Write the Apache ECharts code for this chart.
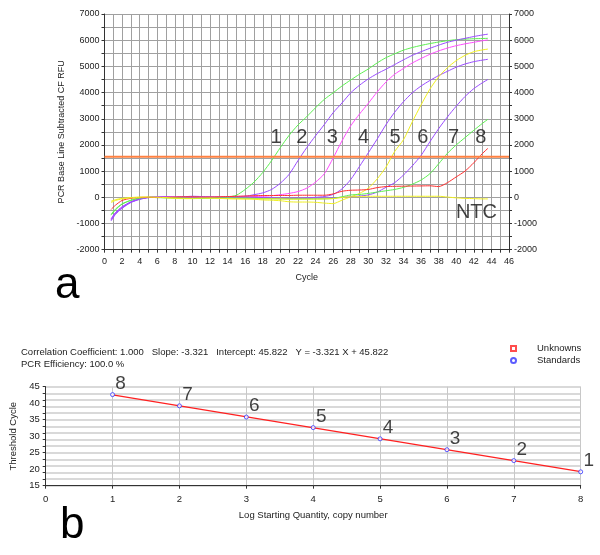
<!DOCTYPE html>
<html>
<head>
<meta charset="utf-8">
<script src="https://cdn.jsdelivr.net/npm/echarts@6/dist/echarts.min.js"></script>
<style>
html,body{margin:0;padding:0;background:#fff;}
#c{width:600px;height:555px;}
</style>
</head>
<body>
<div id="c"></div>
<script>
// ---------- Panel a: amplification curves ----------
const CYCLES = [0.75,1.25,2,3,4,5,6,7,8,9,10,11,12,13,14,15,16,17,18,19,20,21,22,23,24,25,26,27,28,29,30,31,32,33,34,35,36,37,38,39,40,41,42,43,43.6];
const S1 = [-680,-480,-260,-120,-40,0,10,0,-10,-20,-30,-20,-10,0,10,80,300,580,950,1400,1900,2370,2760,3080,3420,3740,3990,4250,4480,4700,4900,5130,5330,5480,5620,5720,5800,5870,5930,5980,6020,6040,6055,6065,6070];
const S2 = [-900,-650,-420,-200,-80,-10,10,20,10,20,40,30,20,10,20,30,40,100,170,300,540,880,1400,1900,2350,2780,3230,3600,3990,4280,4520,4720,4890,5070,5250,5420,5560,5690,5810,5920,6000,6070,6140,6200,6230];
const S3 = [-850,-600,-380,-180,-60,0,10,20,10,0,-10,0,0,10,10,20,20,30,40,60,100,150,220,350,580,900,1500,2150,2730,3180,3590,4020,4400,4700,4920,5130,5300,5460,5590,5700,5790,5860,5920,5980,6010];
const S4 = [-870,-620,-400,-190,-70,-10,0,10,0,10,20,10,0,-10,0,10,10,0,-10,-20,-30,-30,-30,-20,0,30,110,320,680,1180,1700,2220,2770,3250,3650,3990,4250,4460,4650,4810,4970,5090,5180,5240,5270];
const S5 = [-150,-90,-40,-10,10,0,0,-20,-40,-50,-50,-40,-30,-40,-50,-60,-60,-70,-100,-110,-130,-170,-180,-180,-190,-220,-240,-110,20,150,350,700,1150,1750,2200,2880,3530,4130,4600,4950,5220,5420,5560,5630,5660];
const S6 = [-820,-580,-360,-170,-60,0,10,0,0,10,0,-10,0,0,-10,-20,-20,-30,-30,-30,-40,-40,-40,-40,-30,-30,-20,0,20,50,90,200,380,560,850,1200,1600,2120,2620,3070,3480,3850,4150,4380,4500];
const S7 = [-650,-450,-250,-110,-30,0,-10,-20,-20,-30,-40,-40,-30,-20,-20,-30,-30,-40,-50,-50,-60,-60,-60,-60,-60,-60,-40,20,90,110,150,200,250,300,380,500,660,900,1280,1680,2000,2280,2560,2830,2980];
const S8 = [-460,-300,-120,-40,-5,0,-10,0,10,20,20,10,10,20,30,40,50,60,70,70,70,70,80,80,80,80,130,230,270,280,300,370,410,420,425,430,435,440,410,560,780,1000,1320,1680,1870];
const NTC = [-200,-120,-60,-20,0,10,0,-10,-30,-40,-40,-30,-30,-40,-50,-50,-60,-60,-60,-60,-60,-70,-70,-70,-70,-60,-50,-10,20,30,40,40,40,40,40,40,40,40,40,10,-20,-40,-50,-60,-60];
const CURVES = [S1,S2,S3,S4,S5,S6,S7,S8,NTC];
const CURVE_NAMES = ['1','2','3','4','5','6','7','8','NTC'];
const CURVE_COLORS = ['#5cf050','#9a4cff','#ff4cff','#9a4cff','#f0f020','#9a4cff','#5cf050','#ff3030','#f0f020'];
const THRESHOLD = 1550;
const CYCLE_RANGE = [0, 46];
const RFU_RANGE = [-2000, 7000];
const CURVE_LABEL_X = [19.5, 22.45, 25.9, 29.45, 33.05, 36.2, 39.7, 42.8, 42.3];
const CURVE_LABEL_Y = [2270, 2270, 2270, 2270, 2270, 2270, 2270, 2270, -560];

// ---------- Panel b: standard curve ----------
const LOG_QTY = [1,2,3,4,5,6,7,8];
const CT = [42.6,39.2,35.8,32.6,29.2,25.9,22.6,19.2];
const STD_LABELS = ['8','7','6','5','4','3','2','1'];
const CORR = '1.000';
const SLOPE = -3.321;
const INTERCEPT = 45.822;
const EFFICIENCY = '100.0 %';

const FONT = 'Liberation Sans';
const chart = echarts.init(document.getElementById('c'), null, {renderer:'canvas'});

const curveSeries = CURVES.map((arr, i) => ({
  type:'line', name:CURVE_NAMES[i], xAxisIndex:0, yAxisIndex:0,
  data: arr.map((v, j) => [CYCLES[j], v]),
  showSymbol:false, smooth:0.25, silent:true,
  lineStyle:{color:CURVE_COLORS[i], width:1}, itemStyle:{color:CURVE_COLORS[i]},
  z:3
}));

const fitLine = [LOG_QTY[0], LOG_QTY[LOG_QTY.length-1]].map(x => [x, +(INTERCEPT + SLOPE*x).toFixed(3)]);
const plain = v => String(v);

const option = {
  animation:false,
  backgroundColor:'#fff',
  textStyle:{fontFamily:FONT},
  title:[{
    text:'Correlation Coefficient: ' + CORR + '   Slope: ' + SLOPE + '   Intercept: ' + INTERCEPT + '   Y = ' + SLOPE + ' X + ' + INTERCEPT + '\nPCR Efficiency: ' + EFFICIENCY,
    left:16, top:341,
    textStyle:{fontFamily:FONT, fontSize:9.5, fontWeight:'normal', color:'#222', lineHeight:12.5}
  }],
  legend:{
    orient:'vertical', left:505, top:338, itemWidth:5, itemHeight:5, itemGap:1,
    data:['Unknowns','Standards'],
    textStyle:{fontFamily:FONT, fontSize:9.5, color:'#222', padding:[0,0,0,16], lineHeight:11}
  },
  graphic:[
    {type:'text', left:55, top:264, style:{text:'a', font:'44px "Liberation Sans"', fill:'#000'}},
    {type:'text', left:60, top:504, style:{text:'b', font:'44px "Liberation Sans"', fill:'#000'}}
  ],
  grid:[
    {left:104.5, top:14, width:404.5, height:235.7},
    {left:45.7, top:386.7, width:535, height:99}
  ],
  xAxis:[
    {gridIndex:0, type:'value', min:CYCLE_RANGE[0], max:CYCLE_RANGE[1], interval:2,
     name:'Cycle', nameLocation:'middle', nameGap:23, nameTextStyle:{fontSize:9, color:'#222', fontFamily:FONT},
     axisLine:{onZero:false, lineStyle:{color:'#333', width:1}},
     axisTick:{show:true, length:3, lineStyle:{color:'#333'}},
     minorTick:{show:true, splitNumber:2, length:3, lineStyle:{color:'#333'}},
     axisLabel:{fontSize:9, color:'#222', margin:7, fontFamily:FONT},
     splitLine:{show:true, lineStyle:{color:'#a0a0a0', width:1}},
     minorSplitLine:{show:true, lineStyle:{color:'#a0a0a0', width:1}}},
    {gridIndex:1, type:'value', min:0, max:8, interval:1,
     name:'Log Starting Quantity, copy number', nameLocation:'middle', nameGap:25, nameTextStyle:{fontSize:9.5, color:'#222', fontFamily:FONT},
     axisLine:{onZero:false, lineStyle:{color:'#333', width:1}},
     axisTick:{show:true, length:3, lineStyle:{color:'#333'}},
     axisLabel:{fontSize:9.5, color:'#222', margin:9, fontFamily:FONT},
     splitLine:{show:true, lineStyle:{color:'#c8c8c8', width:1}}}
  ],
  yAxis:[
    {gridIndex:0, type:'value', min:RFU_RANGE[0], max:RFU_RANGE[1], interval:1000, position:'left',
     name:'PCR Base Line Subtracted CF RFU', nameLocation:'middle', nameGap:34, nameRotate:90,
     nameTextStyle:{fontSize:9, color:'#222', fontFamily:FONT},
     axisLine:{show:true, lineStyle:{color:'#333', width:1}},
     axisTick:{show:true, length:3, lineStyle:{color:'#333'}},
     minorTick:{show:true, splitNumber:2, length:3, lineStyle:{color:'#333'}},
     axisLabel:{fontSize:9, color:'#222', margin:5, fontFamily:FONT, formatter:plain},
     splitLine:{show:true, lineStyle:{color:'#a0a0a0', width:1}},
     minorSplitLine:{show:true, lineStyle:{color:'#a0a0a0', width:1}}},
    {gridIndex:0, type:'value', min:RFU_RANGE[0], max:RFU_RANGE[1], interval:1000, position:'right',
     axisLine:{show:true, lineStyle:{color:'#333', width:1}},
     axisTick:{show:true, length:3, lineStyle:{color:'#333'}},
     minorTick:{show:true, splitNumber:2, length:3, lineStyle:{color:'#333'}},
     axisLabel:{fontSize:9, color:'#222', margin:5, fontFamily:FONT, formatter:plain},
     splitLine:{show:false}},
    {gridIndex:1, type:'value', min:15, max:45, interval:5, position:'left',
     name:'Threshold Cycle', nameLocation:'middle', nameGap:22, nameRotate:90,
     nameTextStyle:{fontSize:9.5, color:'#222', fontFamily:FONT},
     axisLine:{show:true, lineStyle:{color:'#333', width:1}},
     axisTick:{show:false},
     axisLabel:{fontSize:9.5, color:'#222', margin:6, fontFamily:FONT},
     splitLine:{show:false}},
    {gridIndex:1, type:'value', min:15, max:45, interval:2, position:'left',
     axisLine:{show:false}, axisLabel:{show:false},
     axisTick:{show:true, length:3, lineStyle:{color:'#333'}},
     splitLine:{show:true, lineStyle:{color:'#cdcdcd', width:1.6}}}
  ],
  series:[
    ...curveSeries,
    {type:'line', name:'threshold', xAxisIndex:0, yAxisIndex:0, silent:true,
     data:[[CYCLE_RANGE[0], THRESHOLD],[CYCLE_RANGE[1], THRESHOLD]], showSymbol:false,
     lineStyle:{color:'#ff8040', width:2}, z:4},
    {type:'scatter', name:'curveLabels', xAxisIndex:0, yAxisIndex:0, silent:true,
     data:CURVE_NAMES.map((n,i)=>({value:[CURVE_LABEL_X[i], CURVE_LABEL_Y[i]], name:n})),
     symbolSize:0,
     label:{show:true, position:'inside', formatter:p=>p.name, fontSize:20, color:'#111', fontFamily:FONT}, z:5},
    {type:'line', name:'fit', xAxisIndex:1, yAxisIndex:2, data:fitLine, showSymbol:false, silent:true,
     lineStyle:{color:'#ff2020', width:1.2}, z:3},
    {type:'scatter', name:'Unknowns', xAxisIndex:1, yAxisIndex:2, data:[], symbol:'rect', symbolSize:5,
     itemStyle:{color:'#fff', borderColor:'#ff2020', borderWidth:1.2}},
    {type:'scatter', name:'Standards', xAxisIndex:1, yAxisIndex:2,
     data:LOG_QTY.map((x,i)=>({value:[x, CT[i]], name:STD_LABELS[i]})),
     symbol:'circle', symbolSize:4,
     itemStyle:{color:'#fff', borderColor:'#3333ff', borderWidth:1},
     label:{show:true, position:'top', distance:-1, offset:[8,0], formatter:p=>p.name, fontSize:19, color:'#111', fontFamily:FONT},
     z:5}
  ]
};
chart.setOption(option);
</script>
</body>
</html>
